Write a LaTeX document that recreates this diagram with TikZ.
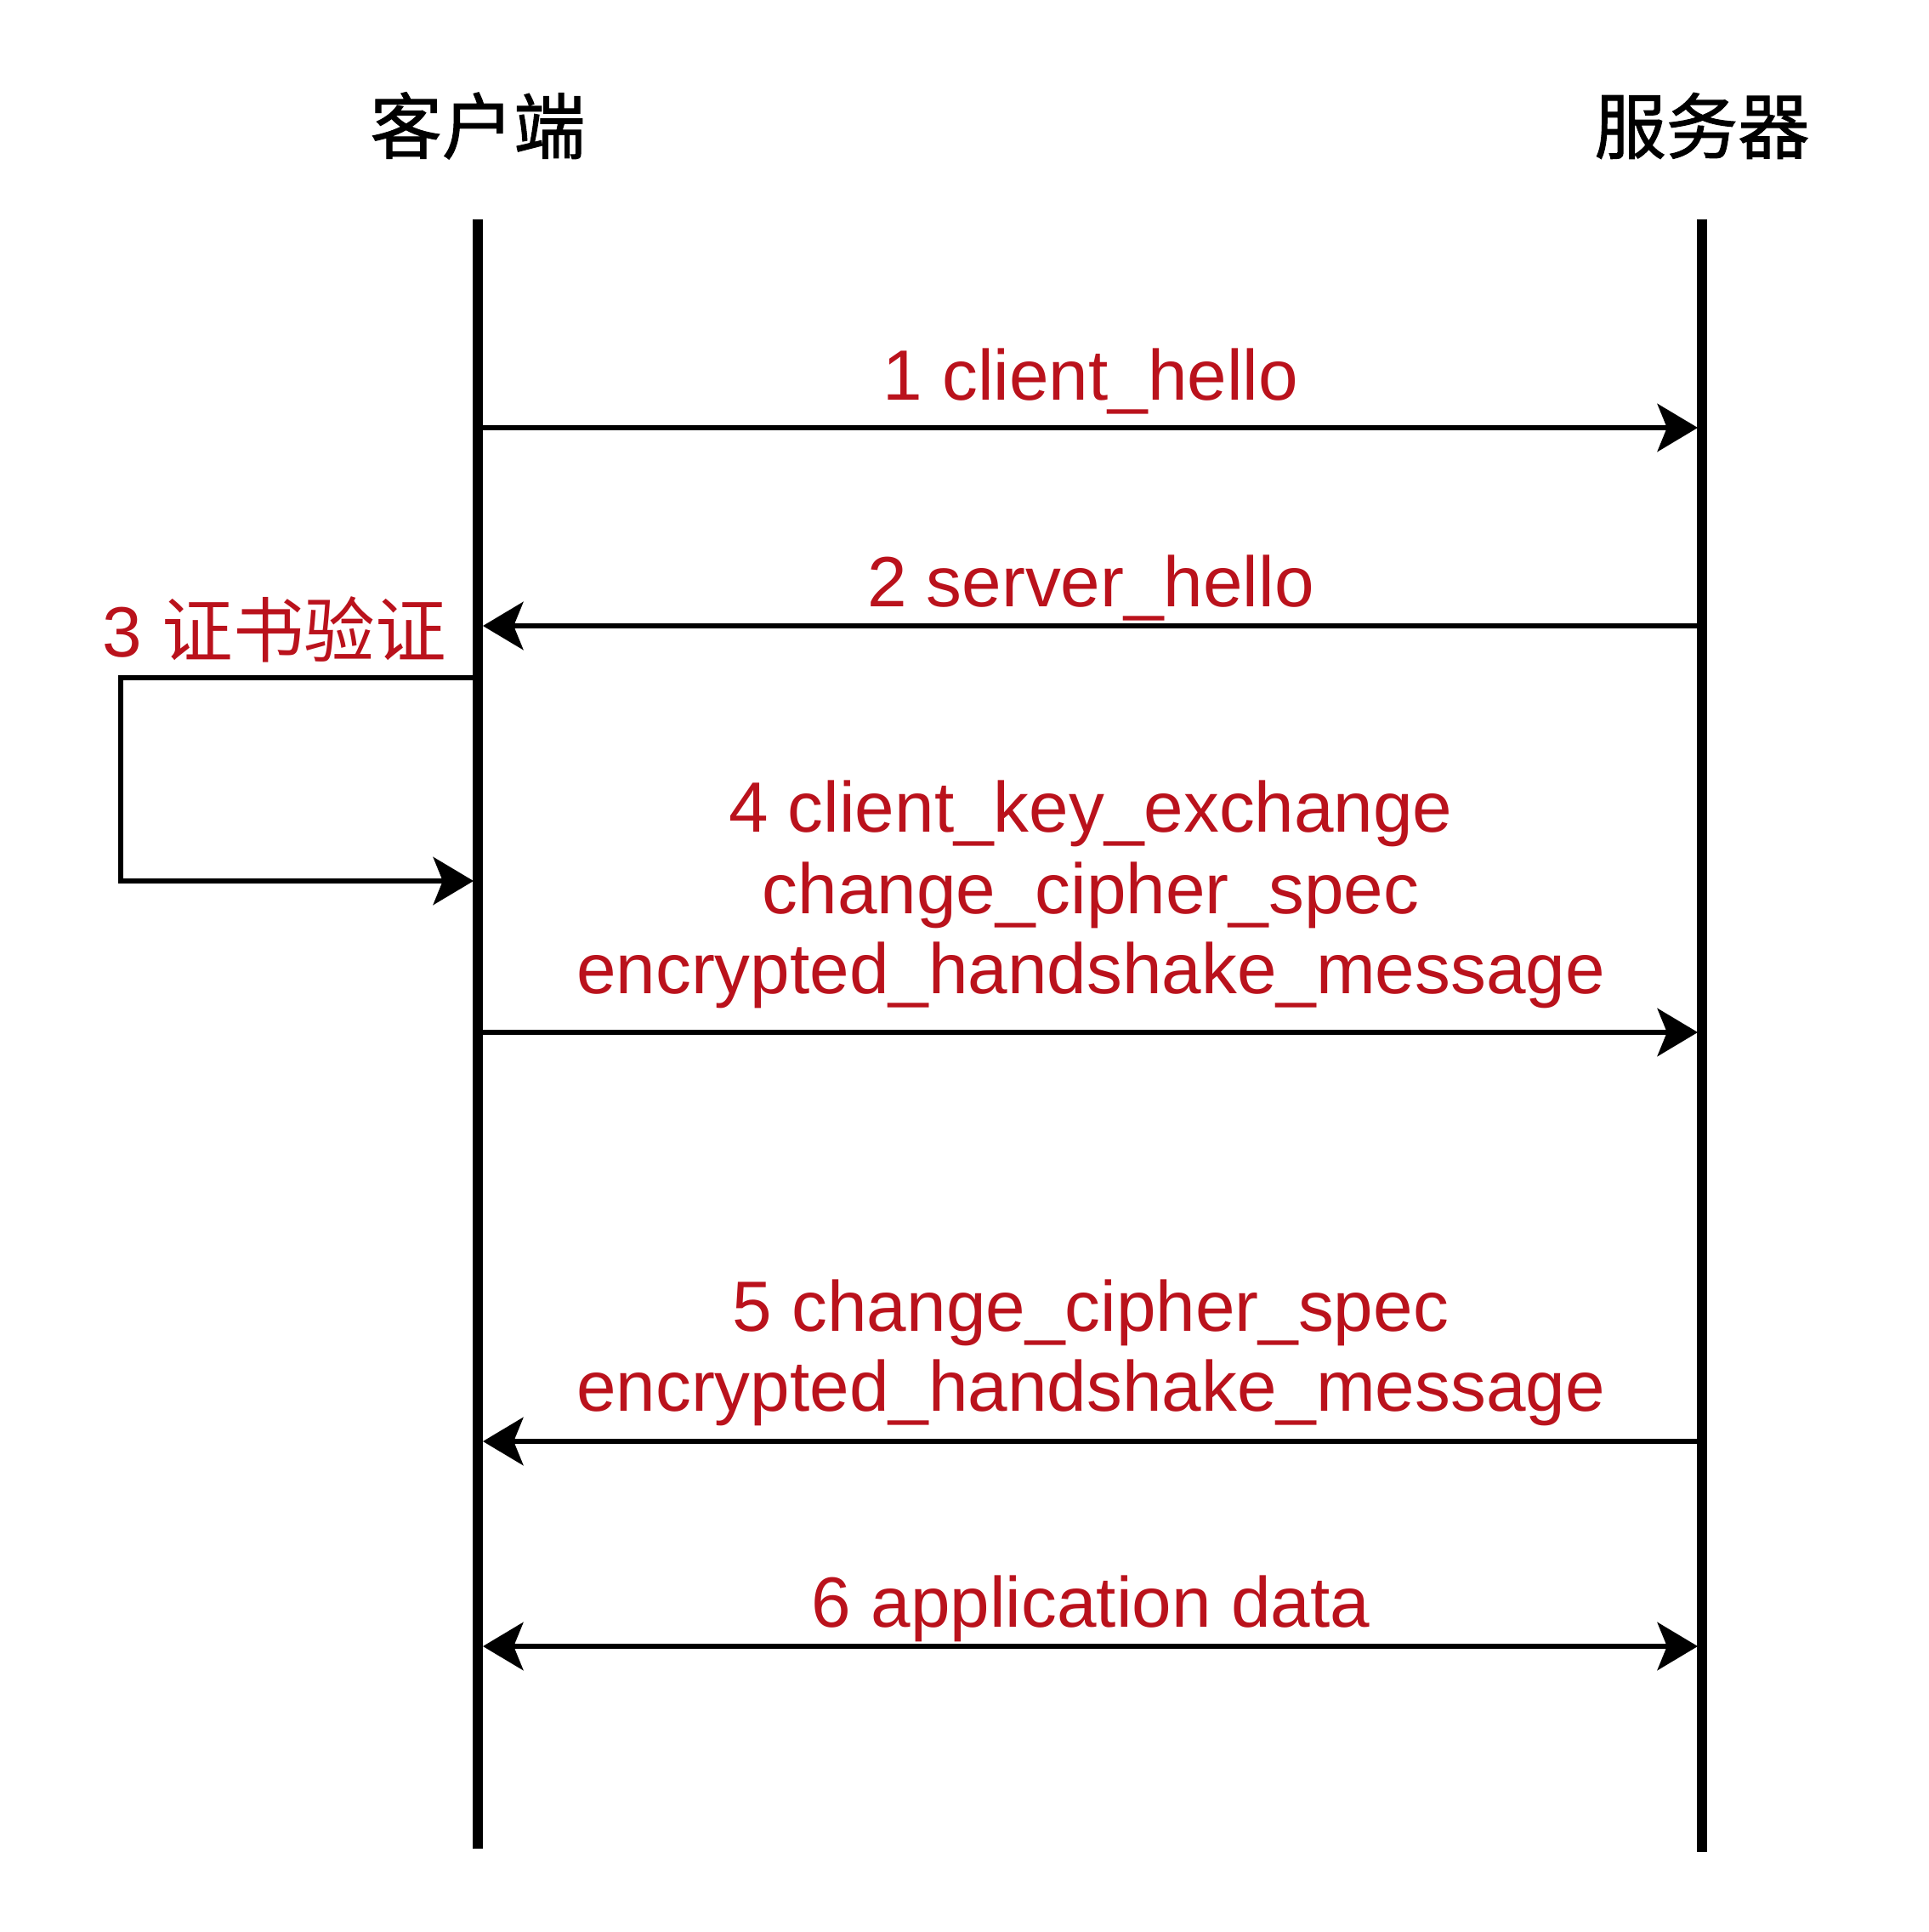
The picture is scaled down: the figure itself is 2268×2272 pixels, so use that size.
\documentclass[tikz,border=0pt]{standalone}
\usepackage{fontspec}
\setmainfont{Liberation Sans}
\newfontfamily\cjk{Noto Sans CJK SC}
\newfontfamily\cjkttl[FakeBold=1.2]{Noto Sans CJK SC}
\usetikzlibrary{arrows.meta}
\definecolor{lblred}{RGB}{186,18,28}
\begin{document}
\begin{tikzpicture}[x=0.01cm,y=-0.01cm,
  life/.style={line width=3.4pt, line cap=butt},
  tip/.tip={Stealth[length=13.5pt,width=16pt,inset=3.2pt]},
  msg/.style={line width=1.7pt, -tip},
  msgboth/.style={line width=1.7pt, tip-tip},
  loopline/.style={line width=1.5pt, line join=miter, -tip},
  lbl/.style={text=lblred, font=\fontsize{23.8}{28}\selectfont, anchor=base, inner sep=0pt},
  ttl/.style={font=\cjkttl\fontsize{24}{28}\selectfont, anchor=base, inner sep=0pt}]
\useasboundingbox (0,0) rectangle (2268,2272);

% titles
\node[ttl] (tc) at (562,180) {客户端};
\node[ttl] (ts) at (2002,180) {服务器};

% lifelines
\coordinate (ctop) at (562,258);
\coordinate (cbot) at (562,2174);
\coordinate (stop) at (2002,258);
\coordinate (sbot) at (2002,2178);
\draw[life] (ctop) -- (cbot);
\draw[life] (stop) -- (sbot);

% message endpoints
\coordinate (c1) at (567,503);  \coordinate (s1) at (1997,503);
\coordinate (c2) at (568,736);  \coordinate (s2) at (2000,736);
\coordinate (c4) at (567,1214); \coordinate (s4) at (1997,1214);
\coordinate (c5) at (568,1695); \coordinate (s5) at (2000,1695);
\coordinate (c6) at (568,1936); \coordinate (s6) at (1997,1936);

% loop
\coordinate (l0) at (558,797);
\coordinate (l1) at (142,797);
\coordinate (l2) at (142,1036);
\coordinate (l3) at (557,1036);

\draw[msg] (c1) -- (s1);
\draw[msg] (s2) -- (c2);
\draw[loopline] (l0) -- (l1) -- (l2) -- (l3);
\draw[msg] (c4) -- (s4);
\draw[msg] (s5) -- (c5);
\draw[msgboth] (c6) -- (s6);

% labels
\node[lbl] (m1) at (1283,470) {1 client\_hello};
\node[lbl] (m2) at (1283,713) {2 server\_hello};
\node[lbl, anchor=base west] (m3) at (120,772) {3 {\cjk 证书验证}};
\node[lbl] (m4a) at (1283,978) {4 client\_key\_exchange};
\node[lbl] (m4b) at (1283,1074) {change\_cipher\_spec};
\node[lbl] (m4c) at (1283,1168) {encrypted\_handshake\_message};
\node[lbl] (m5a) at (1283,1565) {5 change\_cipher\_spec};
\node[lbl] (m5b) at (1283,1659) {encrypted\_handshake\_message};
\node[lbl] (m6) at (1283,1913) {6 application data};
\end{tikzpicture}
\end{document}
